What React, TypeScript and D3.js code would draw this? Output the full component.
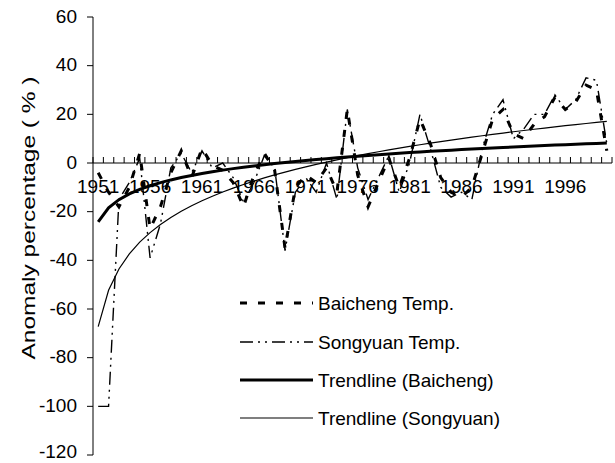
import React from 'react';
import * as d3 from 'd3';

const width = 615;
const height = 463;
const margin = { top: 17, right: 3, bottom: 8, left: 93 };
const font = "'Liberation Sans', Arial, sans-serif";

const years = d3.range(1951, 2001);
const tickYears = [1951, 1956, 1961, 1966, 1971, 1976, 1981, 1986, 1991, 1996];
const yTicks = [60, 40, 20, 0, -20, -40, -60, -80, -100, -120];

// anomaly percentage, 1951..2000
const baicheng = [
  -4, -12, -18, -10, 4, -27, -18, -4, 5, -6,
  6, -1, -3, -8, -18, -5, 4, -3, -35, -10,
  -5, -8, -2, -12, 22, -5, -18, -8, 2, -10,
  2, 18, 8, -6, -12, -14, -10, 4, 18, 22,
  12, 10, 16, 19, 27, 22, 25, 32, 30, 5
];
const songyuan = [
  -100, -100, -15, -8, 2, -39, -25, -2, 4, -4,
  5, -2, 0, -6, -16, -8, 3, -2, -36, -12,
  -6, -12, 0, -15, 22, -2, -15, -6, 3, -12,
  0, 20, 6, -10, -14, -12, -15, 6, 20, 26,
  10, 14, 20, 20, 28, 22, 26, 35, 34, 8
];

const legendItems = [
  { label: 'Baicheng Temp.', width: 3, dash: '7 11' },
  { label: 'Songyuan Temp.', width: 1.4, dash: '13 5 2 5 2 5' },
  { label: 'Trendline (Baicheng)', width: 3, dash: null },
  { label: 'Trendline (Songyuan)', width: 1.2, dash: null }
];

// Excel-style logarithmic trendline: y = a ln(x) + b, x = 1..n
function logFit(values: number[]) {
  const xs = values.map((_, i) => Math.log(i + 1));
  const mx = d3.mean(xs) as number;
  const my = d3.mean(values) as number;
  let sxy = 0;
  let sxx = 0;
  xs.forEach((x, i) => {
    sxy += (x - mx) * (values[i] - my);
    sxx += (x - mx) * (x - mx);
  });
  const a = sxy / sxx;
  const b = my - a * mx;
  return values.map((_, i) => a * Math.log(i + 1) + b);
}

export default function App() {
  const x = d3.scaleBand<number>().domain(years).range([margin.left, width - margin.right]);
  const y = d3.scaleLinear().domain([-120, 60]).range([height - margin.bottom, margin.top]);
  const cx = (yr: number) => (x(yr) as number) + x.bandwidth() / 2;

  const line = d3
    .line<number>()
    .x((_, i) => cx(years[i]))
    .y(d => y(d));

  const trendB = logFit(baicheng);
  const trendS = logFit(songyuan);

  const boundaries = d3.range(years.length + 1).map(k => margin.left + k * x.bandwidth());
  const legendX = 240;
  const legendY = [303, 342, 380, 418];

  return (
    <svg width={width} height={height} style={{ position: 'absolute', left: 0, top: 0 }} fontFamily={font}>
      <rect width={width} height={height} fill="#fff" />

      {/* y axis */}
      <line x1={margin.left} x2={margin.left} y1={y(60)} y2={y(-120)} stroke="#000" />
      {yTicks.map(t => (
        <g key={t}>
          <line x1={margin.left - 6} x2={margin.left} y1={y(t)} y2={y(t)} stroke="#000" />
          <text x={77} y={Math.min(y(t) - 1, height - 12)} dy="0.35em" textAnchor="end" fontSize={19}>
            {t}
          </text>
        </g>
      ))}
      <text
        transform={`translate(28, 218) rotate(-90)`}
        textAnchor="middle"
        dy="0.35em"
        fontSize={19}
        textLength={283}
        lengthAdjust="spacingAndGlyphs"
      >
        Anomaly percentage ( % )
      </text>

      {/* x axis at zero */}
      <line x1={margin.left} x2={width - margin.right} y1={y(0)} y2={y(0)} stroke="#000" />
      {boundaries.map((b, i) => (
        <line key={i} x1={b} x2={b} y1={y(0) - 6} y2={y(0)} stroke="#000" />
      ))}
      {tickYears.map(t => (
        <text key={t} x={cx(t)} y={y(0) + 30} textAnchor="middle" fontSize={19}>
          {t}
        </text>
      ))}

      {/* series */}
      <path d={line(songyuan) as string} fill="none" stroke="#000" strokeWidth={1.4} strokeDasharray="13 5 2 5 2 5" />
      <path d={line(baicheng) as string} fill="none" stroke="#000" strokeWidth={3} strokeDasharray="7 11" />
      <path d={line(trendS) as string} fill="none" stroke="#000" strokeWidth={1.2} />
      <path d={line(trendB) as string} fill="none" stroke="#000" strokeWidth={3} />

      {/* legend */}
      {legendItems.map((it, i) => (
        <g key={it.label}>
          <line
            x1={legendX}
            x2={legendX + 73}
            y1={legendY[i]}
            y2={legendY[i]}
            stroke="#000"
            strokeWidth={it.width}
            strokeDasharray={it.dash || undefined}
          />
          <text x={legendX + 78} y={legendY[i]} dy="0.35em" fontSize={19}>
            {it.label}
          </text>
        </g>
      ))}
    </svg>
  );
}
